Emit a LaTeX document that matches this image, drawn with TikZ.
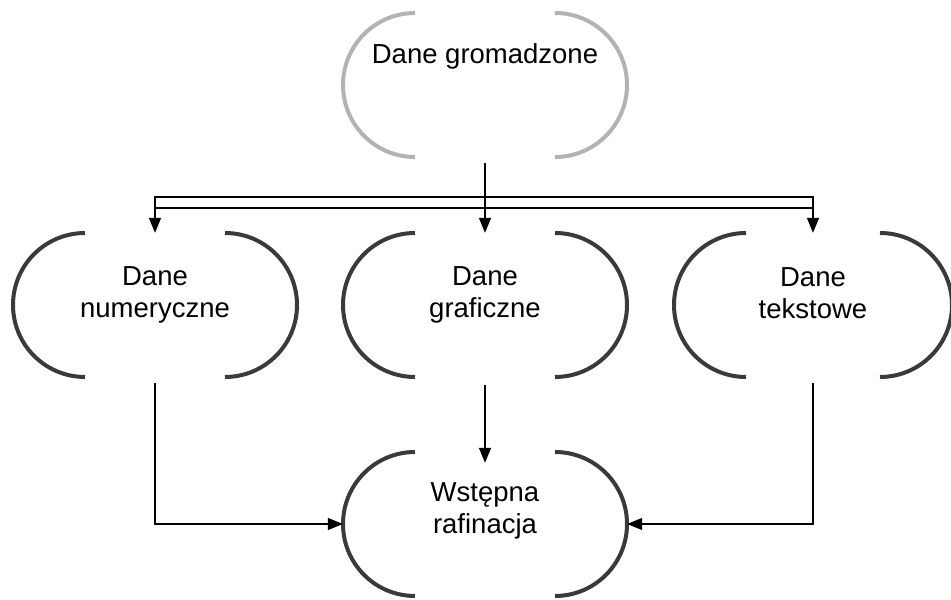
\documentclass[tikz,border=0pt]{standalone}
\usepackage{fontspec}
\setmainfont{Liberation Sans}
\usetikzlibrary{arrows.meta}
\definecolor{arcdark}{HTML}{3A3A3A}
\definecolor{arclight}{HTML}{B3B3B3}
% two facing arcs around a node: #1 node, #2 half distance of arc centres, #3 colour
\newcommand\bracketpair[3]{%
  \draw[arcline,#3] ([xshift=-#2pt,yshift=72pt]#1.center)
    arc[start angle=90,end angle=270,radius=72pt];
  \draw[arcline,#3] ([xshift=#2pt,yshift=72pt]#1.center)
    arc[start angle=90,end angle=-90,radius=72pt];}
\begin{document}
\begin{tikzpicture}[x=1pt,y=1pt,
  frame/.style={shape=rectangle,draw=none,inner sep=0pt,
    minimum width=#1,minimum height=144pt},
  frame/.default=284pt,
  lbl/.style={align=center,inner sep=0pt,
    font=\fontsize{27.5pt}{32pt}\selectfont},
  arcline/.style={line width=4pt},
  conn/.style={line width=1.5pt,black},
  arr/.style={conn,-{Triangle[length=15pt,width=12pt]}}]
\useasboundingbox[fill=white] (0,0) rectangle (951,600);

% node frames
\node[frame] (top)   at (485,515) {};
\node[frame] (num)   at (155,295) {};
\node[frame] (graf)  at (485,295) {};
\node[frame=278pt] (tekst) at (813,295) {};
\node[frame] (raf)   at (485,76)  {};

\bracketpair{top}{70}{arclight}
\bracketpair{num}{70}{arcdark}
\bracketpair{graf}{70}{arcdark}
\bracketpair{tekst}{67}{arcdark}
\bracketpair{raf}{70}{arcdark}

% labels
\node[lbl] (topT)   at ([yshift=29pt]top.center)   {Dane gromadzone};
\node[lbl] (numT)   at ([yshift=10pt]num.center)   {Dane\\numeryczne};
\node[lbl] (grafT)  at ([yshift=10pt]graf.center)  {Dane\\graficzne};
\node[lbl] (tekstT) at ([yshift=12pt]tekst.center) {Dane\\tekstowe};
\node[lbl] (rafT)   at ([yshift=13pt]raf.center)   {Wstępna\\rafinacja};

% distribution bus
\coordinate (busNW) at ([yshift=36pt]num.north);
\coordinate (busSW) at ([yshift=25pt]num.north);
\coordinate (busNE) at ([yshift=36pt]num.north -| tekst.north);
\coordinate (busSE) at ([yshift=25pt]num.north -| tekst.north);
\draw[conn] (busNW) -- (busNE) -- (busSE) -- (busSW) -- cycle;
\draw[arr] ([yshift=-6pt]top.south) -- (graf.north);
\draw[arr] (busSW) -- (num.north);
\draw[arr] (busSE) -- (tekst.north);

% into the refining step
\draw[arr] ([yshift=-6pt]num.south) |- (raf.west);
\draw[arr] ([yshift=-6pt]tekst.south) |- (raf.east);
\draw[arr] ([yshift=-8pt]graf.south) -- ([yshift=-11pt]raf.north);
\end{tikzpicture}
\end{document}
